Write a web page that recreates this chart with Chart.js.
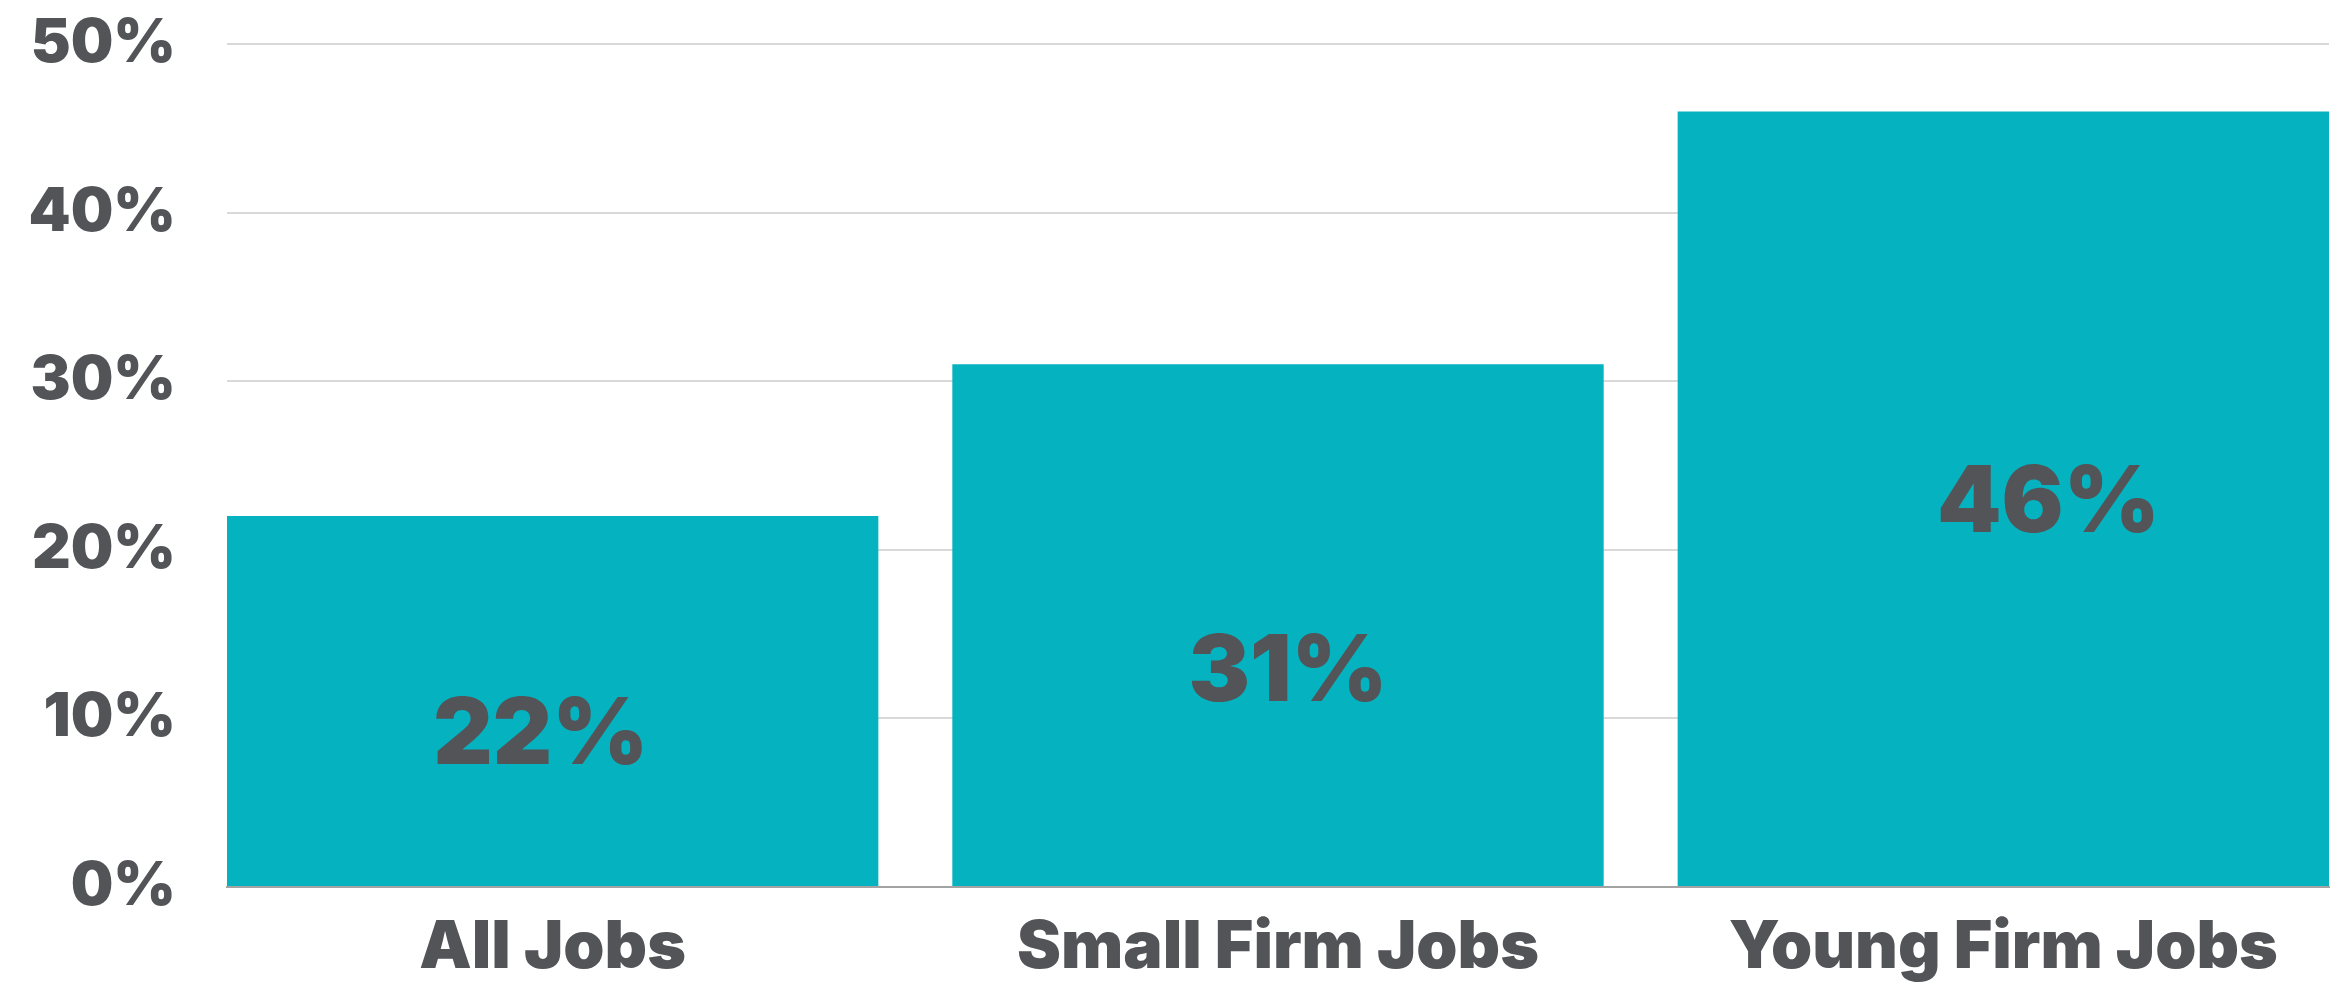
<!DOCTYPE html>
<html>
<head>
<meta charset="utf-8">
<script src="https://cdn.jsdelivr.net/npm/chart.js@4.4.1/dist/chart.umd.min.js"></script>
<style>
    html, body { margin: 0; padding: 0; background: #ffffff; }
    #wrap { width: 2344px; height: 995px; position: relative; }
</style>
</head>
<body>
<div id="wrap"><canvas id="jobsChart"></canvas></div>
<script>
// datos
const categories = ['All Jobs', 'Small Firm Jobs', 'Young Firm Jobs'];
const shares = [22, 31, 46];
const yTicks = [0, 10, 20, 30, 40, 50];

const textColor = '#535458';
const fontFamily = 'Inter, "Open Sans", sans-serif';

// etiquetas dentro de las barras
const barLabels = {
    id: 'barLabels',
    afterDatasetsDraw(chart, args, opts) {
        const ctx = chart.ctx;
        const yScale = chart.scales.y;
        const meta = chart.getDatasetMeta(0);
        ctx.save();
        ctx.fillStyle = textColor;
        ctx.font = '900 92px ' + fontFamily;
        ctx.textAlign = 'center';
        ctx.textBaseline = 'alphabetic';
        meta.data.forEach((bar, i) => {
            const v = shares[i];
            const cy = yScale.getPixelForValue(v * opts.frac[i]);
            ctx.fillText(v + '%', bar.x + opts.dx[i], cy + 92 * 0.36);
        });
        ctx.restore();
    }
};

const jobsChart = new Chart(document.getElementById('jobsChart'), {
    type: 'bar',
    data: {
        datasets: [{
            data: shares.map((v, i) => ({ x: i, y: v })),
            backgroundColor: '#04B3BF',
            borderWidth: 0,
            barPercentage: 0.898,
            categoryPercentage: 1
        }]
    },
    options: {
        responsive: true,
        maintainAspectRatio: false,
        devicePixelRatio: 1,
        animation: false,
        layout: {
            padding: { top: 44, right: 15, bottom: 0, left: 0 }
        },
        plugins: {
            legend: { display: false },
            tooltip: { enabled: false },
            barLabels: {
                frac: [0.42, 0.42, 0.5],
                dx: [-12, 10, 45]
            }
        },
        scales: {
            x: {
                type: 'linear',
                offset: false,
                min: -0.449,
                max: 2.449,
                afterBuildTicks: (axis) => {
                    axis.ticks = categories.map((c, i) => ({ value: i }));
                },
                afterFit: (axis) => {
                    axis.height = 108;
                },
                grid: { display: false, drawTicks: false, offset: false },
                border: { display: true, color: '#A3A3A3', width: 2 },
                ticks: {
                    padding: 22,
                    color: textColor,
                    font: { family: fontFamily, size: 66, weight: 900 },
                    callback: (v) => categories[v],
                    maxRotation: 0,
                    autoSkip: false
                }
            },
            y: {
                min: 0,
                max: 50,
                afterBuildTicks: (axis) => {
                    axis.ticks = yTicks.map(v => ({ value: v }));
                },
                afterFit: (axis) => {
                    axis.width = 227;
                    axis.paddingTop = 0;
                    axis.paddingBottom = 0;
                },
                grid: { color: '#D9D9D9', lineWidth: 2, drawTicks: false },
                border: { display: false },
                ticks: {
                    padding: 51,
                    color: textColor,
                    font: { family: fontFamily, size: 60, weight: 900 },
                    callback: (v) => v + '%'
                }
            }
        }
    },
    plugins: [barLabels]
});
</script>
</body>
</html>
